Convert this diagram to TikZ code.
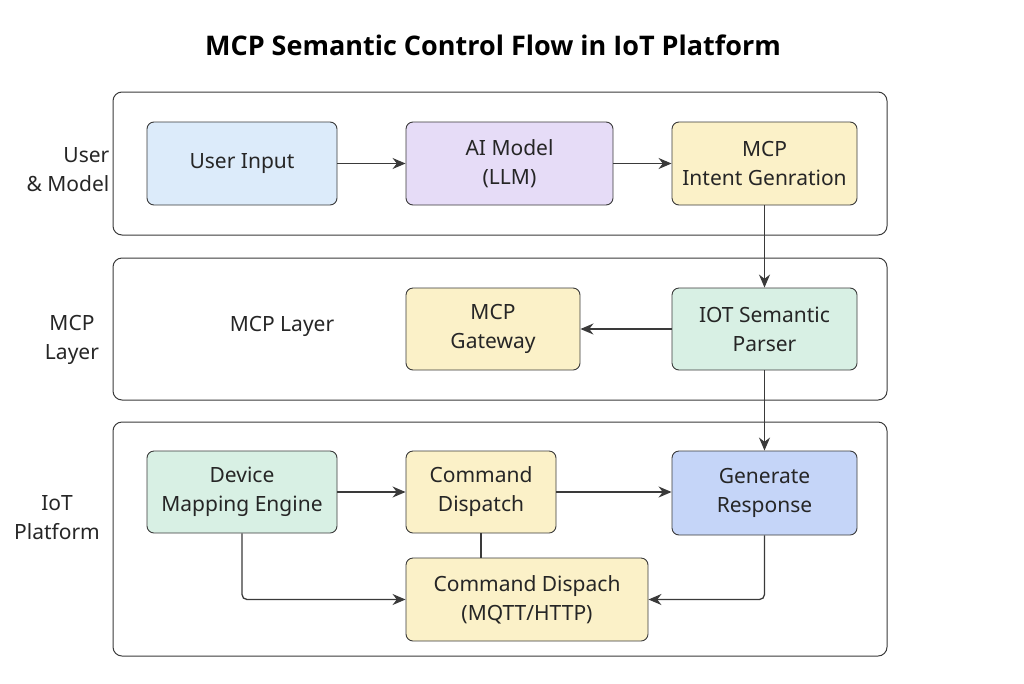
\documentclass[tikz,border=0pt]{standalone}
\usepackage{fontspec}
\setmainfont{Noto Sans}
\newfontfamily\titlefont{Open Sans}
\usetikzlibrary{positioning,arrows.meta}
\definecolor{inblue}{HTML}{DCEBFA}
\definecolor{lavender}{HTML}{E6DCF7}
\definecolor{paleyellow}{HTML}{FBF1C8}
\definecolor{palegreen}{HTML}{D8F0E4}
\definecolor{respblue}{HTML}{C5D5F8}
\definecolor{edge}{HTML}{3A3A3A}
\tikzset{
  panel/.style={draw=edge, line width=1pt, rounded corners=9pt},
  box/.style={draw=edge, line width=0.9pt, rounded corners=7pt, align=center,
    inner sep=0pt, font=\fontsize{21}{29}\selectfont, text=black!85},
  side/.style={align=center, font=\fontsize{21}{29}\selectfont, text=black!85},
  flow/.style={draw=edge, line width=1.3pt, -{Stealth[length=13pt,width=11pt]}},
}
\begin{document}
\begin{tikzpicture}[x=1pt,y=-1pt]
\useasboundingbox (0,0) rectangle (1024,683);

% title
\node (title) at (493,45) {\titlefont\fontsize{27}{32}\selectfont\bfseries MCP Semantic Control Flow in IoT Platform};

% panels
\draw[panel] (113,92) rectangle (887,235);
\draw[panel] (113,258) rectangle (887,400);
\draw[panel] (113,422) rectangle (887,656);

% side labels
\node[side, align=right] (lbluser) at (68,170) {User\\\& Model};
\node[side] (lblmcp) at (72,340) {MCP\\Layer};
\node[side] (lbliot) at (57,518) {IoT\\Platform};
\node[side] (mcplayer) at (282,326) {MCP Layer};

% boxes
\node[box, fill=inblue, minimum width=190pt, minimum height=83pt] (input) at (242,163.5) {User Input};
\node[box, fill=lavender, minimum width=207pt, minimum height=83pt] (llm) at (509.5,163.5) {AI Model\\(LLM)};
\node[box, fill=paleyellow, minimum width=185pt, minimum height=83pt] (intent) at (764.5,163.5) {MCP\\Intent Genration};
\node[box, fill=paleyellow, minimum width=174pt, minimum height=82pt] (gateway) at (493,329) {MCP\\Gateway};
\node[box, fill=palegreen, minimum width=185pt, minimum height=82pt] (parser) at (764.5,329) {IOT Semantic\\Parser};
\node[box, fill=palegreen, minimum width=190pt, minimum height=82pt] (mapping) at (242,492) {Device\\Mapping Engine};
\node[box, fill=paleyellow, minimum width=150pt, minimum height=82pt] (dispatch) at (481,492) {Command\\Dispatch};
\node[box, fill=respblue, minimum width=185pt, minimum height=84pt] (response) at (764.5,493) {Generate\\Response};
\node[box, fill=paleyellow, minimum width=242pt, minimum height=83pt] (mqtt) at (527,599.5) {Command Dispach\\(MQTT/HTTP)};

% connectors
\draw[flow] (input) -- (llm);
\draw[flow] (llm) -- (intent);
\draw[flow] (intent) -- (parser);
\draw[flow] (parser) -- (gateway);
\draw[flow] (parser) -- (response);
\draw[flow] (mapping) -- (mapping -| dispatch.west);
\draw[flow] (dispatch) -- (dispatch -| response.west);
\draw[draw=edge, line width=1.3pt] (dispatch) -- (dispatch |- mqtt.north);
\draw[flow, rounded corners=5pt] (mapping) |- (mqtt.west);
\draw[flow, rounded corners=5pt] (response) |- (mqtt.east);
\end{tikzpicture}
\end{document}
